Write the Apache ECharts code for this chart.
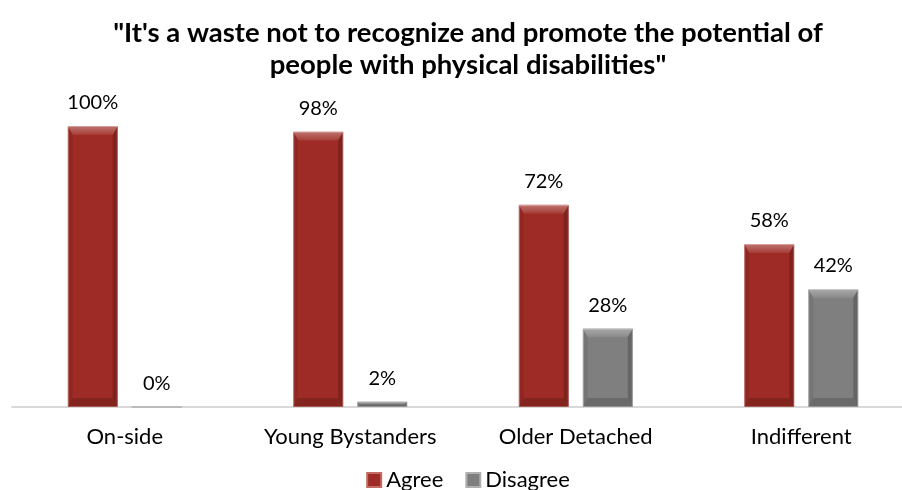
<!DOCTYPE html>
<html>
<head>
<meta charset="utf-8">
<script src="https://cdn.jsdelivr.net/npm/echarts@6/dist/echarts.min.js"></script>
<style>
  html, body { margin: 0; padding: 0; background: #ffffff; overflow: hidden; }
  #chart { width: 936px; height: 490px; }
</style>
</head>
<body>
<div id="chart"></div>
<script>
// Survey segments and share of responses
const categories = ['On-side', 'Young Bystanders', 'Older Detached', 'Indifferent'];
const agreeValues = [100, 98, 72, 58];
const disagreeValues = [0, 2, 28, 42];
const seriesNames = ['Agree', 'Disagree'];
const titleText = '"It\'s a waste not to recognize and promote the potential of\npeople with physical disabilities"';

const FONT = 'Lato, "Open Sans", sans-serif';
const BAR_W = 50;
const PAIR_OFFSET = 32; // half of bar width plus half of the gap between the two bars

const chart = echarts.init(document.getElementById('chart'), null, { renderer: 'canvas' });

const labelStyle = {
  show: true,
  position: 'top',
  distance: 13,
  formatter: p => p.value + '%',
  fontFamily: FONT,
  fontSize: 20,
  color: '#000000'
};

// Bevel highlights drawn over each bar (lighter top face, shaded sides and foot)
function bevelSeries(values, side) {
  return {
    type: 'custom',
    silent: true,
    z: 3,
    data: values.map((v, i) => [i, v]),
    encode: { x: 0, y: 1 },
    renderItem: function (params, api) {
      const top = api.coord([api.value(0), api.value(1)]);
      const base = api.coord([api.value(0), 0]);
      const cx = top[0] + side * PAIR_OFFSET;
      const x0 = cx - BAR_W / 2, x1 = cx + BAR_W / 2;
      const y0 = top[1], y1 = base[1];
      const h = y1 - y0;
      if (h < 1) return null;
      const b = Math.min(9, h / 2);
      const s = Math.min(5, h / 2);
      return {
        type: 'group',
        children: [
          { type: 'polygon', shape: { points: [[x0, y0], [x1, y0], [x1 - s, y0 + b], [x0 + s, y0 + b]] },
            style: { fill: {
              type: 'linear', x: 0, y: 0, x2: 0, y2: 1,
              colorStops: [
                { offset: 0, color: 'rgba(255,255,255,0.35)' },
                { offset: 1, color: 'rgba(255,255,255,0.08)' }
              ]
            } } },
          { type: 'polygon', shape: { points: [[x0, y0], [x0 + s, y0 + b], [x0 + s, y1 - b], [x0, y1]] },
            style: { fill: 'rgba(0,0,0,0.08)' } },
          { type: 'polygon', shape: { points: [[x1, y0], [x1 - s, y0 + b], [x1 - s, y1 - b], [x1, y1]] },
            style: { fill: 'rgba(0,0,0,0.20)' } },
          { type: 'polygon', shape: { points: [[x0, y1], [x0 + s, y1 - b], [x1 - s, y1 - b], [x1, y1]] },
            style: { fill: 'rgba(0,0,0,0.16)' } }
        ]
      };
    }
  };
}

chart.setOption({
  animation: false,
  backgroundColor: '#ffffff',
  title: {
    text: titleText,
    left: 'center',
    top: 12,
    textStyle: {
      fontFamily: FONT,
      fontWeight: 'bold',
      fontSize: 27.5,
      lineHeight: 32,
      color: '#000000'
    }
  },
  legend: {
    data: seriesNames,
    bottom: -6,
    left: 'center',
    icon: 'rect',
    itemWidth: 14,
    itemHeight: 14,
    itemGap: 22,
    textStyle: { fontFamily: FONT, fontSize: 22, color: '#000000' }
  },
  grid: { left: 12, right: 22, top: 126, bottom: 83 },
  xAxis: {
    type: 'category',
    data: categories,
    axisLine: { lineStyle: { color: '#d9d9d9', width: 2 } },
    axisTick: { show: false },
    axisLabel: { interval: 0, fontFamily: FONT, fontSize: 22, color: '#000000', margin: 19 }
  },
  yAxis: {
    type: 'value',
    min: 0,
    max: 100,
    show: false,
    splitLine: { show: false }
  },
  series: [
    {
      name: seriesNames[0],
      type: 'bar',
      data: agreeValues,
      barWidth: BAR_W,
      barGap: '28%',
      itemStyle: { color: '#9e2b25', borderColor: '#c46a64', borderWidth: 1 },
      label: labelStyle
    },
    {
      name: seriesNames[1],
      type: 'bar',
      data: disagreeValues,
      barWidth: BAR_W,
      itemStyle: { color: '#7f7f7f', borderColor: '#b0b0b0', borderWidth: 1 },
      label: labelStyle
    },
    bevelSeries(agreeValues, -1),
    bevelSeries(disagreeValues, 1)
  ]
});
</script>
</body>
</html>
